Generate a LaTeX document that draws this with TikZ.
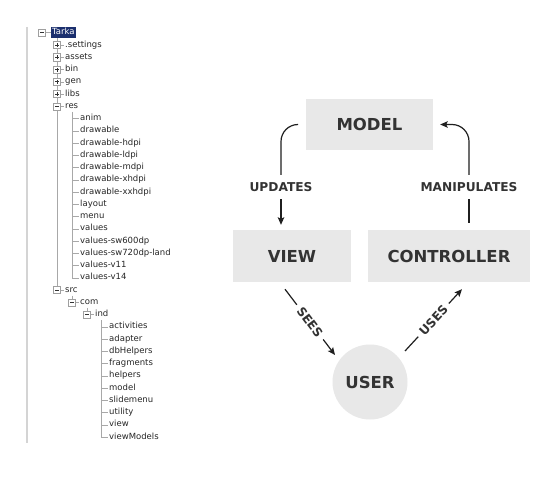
\documentclass[tikz,border=0pt]{standalone}
\usepackage{fontspec}
\setmainfont{DejaVu Sans}
\usetikzlibrary{arrows.meta,calc,backgrounds}
\definecolor{boxgray}{HTML}{E8E8E8}
\definecolor{txt}{HTML}{333333}
\definecolor{selblue}{HTML}{1B2F6E}
\definecolor{treeline}{HTML}{A8A8A8}
\definecolor{panel}{HTML}{D4D4D4}
\begin{document}
\begin{tikzpicture}[x=1pt,y=-1pt,
  item/.style={anchor=west, inner sep=1.5pt, text height=6.2pt, text depth=1.8pt,
    font=\fontsize{8.5}{10}\selectfont, text=black!85},
  ebox/.style={draw=gray!75, fill=white, minimum size=7pt, inner sep=0pt, line width=0.5pt},
  minusbox/.style={ebox, path picture={\draw[black!80,line width=0.6pt]
    ([xshift=1.5pt]path picture bounding box.west) -- ([xshift=-1.5pt]path picture bounding box.east);}},
  plusbox/.style={ebox, path picture={\draw[black!80,line width=0.6pt]
    ([xshift=1.5pt]path picture bounding box.west) -- ([xshift=-1.5pt]path picture bounding box.east)
    ([yshift=1.5pt]path picture bounding box.south) -- ([yshift=-1.5pt]path picture bounding box.north);}},
  tl/.style={draw=treeline, line width=0.5pt},
  mbox/.style={fill=boxgray, text=txt, font=\bfseries\fontsize{16.5}{17}\selectfont, inner sep=0pt},
  lab/.style={fill=white, text=txt, font=\bfseries\fontsize{12.2}{13}\selectfont,
    text height=9pt, text depth=0pt, inner xsep=0pt, inner ysep=7.5pt},
  slab/.style={lab, sloped, inner xsep=4.5pt, inner ysep=2pt},
  conn/.style={line width=1.2pt, draw=black!88},
  arr/.style={conn, -{Stealth[length=7.5pt,width=6.5pt,inset=1.5pt]}}
]
\useasboundingbox (0,0) rectangle (540,487);

% ---------- tree ----------
\node[item, fill=selblue, text=white] (n0) at (50.5,32.75) {Tarka};
\node[minusbox] (b0) at (42,32.75) {};
\foreach \i/\t in {1/.settings,2/assets,3/bin,4/gen,5/libs}{
  \node[item] (n\i) at (63.5,{32.75+12.25*\i}) {\t};
  \node[plusbox] (b\i) at (57,{32.75+12.25*\i}) {};
}
\node[item] (n6) at (63.5,{32.75+12.25*6}) {res};
\node[minusbox] (b6) at (57,{32.75+12.25*6}) {};
\foreach \i/\t in {7/anim,8/drawable,9/drawable-hdpi,10/drawable-ldpi,11/drawable-mdpi,
  12/drawable-xhdpi,13/drawable-xxhdpi,14/layout,15/menu,16/values,17/values-sw600dp,
  18/values-sw720dp-land,19/values-v11,20/values-v14}{
  \node[item] (n\i) at (78.5,{32.75+12.25*\i}) {\t};
}
\node[item] (n21) at (63.5,{32.75+12.25*21}) {src};
\node[minusbox] (b21) at (57,{32.75+12.25*21}) {};
\node[item] (n22) at (78.5,{32.75+12.25*22}) {com};
\node[minusbox] (b22) at (72,{32.75+12.25*22}) {};
\node[item] (n23) at (93.5,{32.75+12.25*23}) {ind};
\node[minusbox] (b23) at (87,{32.75+12.25*23}) {};
\foreach \i/\t in {24/activities,25/adapter,26/dbHelpers,27/fragments,28/helpers,
  29/model,30/slidemenu,31/utility,32/view,33/viewModels}{
  \node[item] (n\i) at (107.5,{32.75+12.25*\i}) {\t};
}
\coordinate (resline) at (72,0);
\coordinate (indline) at (101.5,0);

\begin{scope}[on background layer]
  \fill[white] (0,0) rectangle (540,487);
  \draw[panel, line width=1.5pt] (27,27) -- (27,443);
  \draw[tl] (b0.east) -- (n0.west);
  \draw[tl] (b1 |- n0.south) -- (b21.center);
  \foreach \i in {1,...,6,21}{ \draw[tl] (b\i.east) -- (n\i.west); }
  \draw[tl] (resline |- n6.south) |- (n20.west);
  \foreach \i in {7,...,19}{ \draw[tl] (resline |- n\i.west) -- (n\i.west); }
  \draw[tl] (b22 |- n21.south) -- (b22.center);
  \draw[tl] (b22.east) -- (n22.west);
  \draw[tl] (b23 |- n22.south) -- (b23.center);
  \draw[tl] (b23.east) -- (n23.west);
  \draw[tl] (indline |- n23.south) |- (n33.west);
  \foreach \i in {24,...,32}{ \draw[tl] (indline |- n\i.west) -- (n\i.west); }
\end{scope}

% ---------- MVC diagram ----------
\node[mbox, minimum width=127pt, minimum height=51pt] (model) at (369.5,124.5) {MODEL};
\node[mbox, minimum width=118pt, minimum height=52pt] (view) at (292,256) {VIEW};
\node[mbox, minimum width=162pt, minimum height=52pt] (ctrl) at (449,256) {CONTROLLER};
\node[mbox, circle, minimum size=75pt] (user) at (370,382) {USER};

\node[lab] (upd) at (281,187) {UPDATES};
\node[lab] (man) at (469,187) {MANIPULATES};

\draw[conn, rounded corners=17pt] ([xshift=-8pt]model.west) -| (upd.north);
\draw[arr, shorten >=5pt] (upd.south) -- (upd.south |- view.north);
\draw[conn, shorten >=7pt] (man.south) -- (man.south |- ctrl.north);
\draw[arr, rounded corners=17pt, shorten >=7pt] (man.north) |- (model.east);

\draw[arr] ($(view.south)+(-7,7)$) -- node[slab]{SEES} ($(user.center)+(-35,-27)$);
\draw[arr] ($(user.center)+(35,-31)$) -- node[slab]{USES} ($(ctrl.south)+(13,7)$);
\end{tikzpicture}
\end{document}
